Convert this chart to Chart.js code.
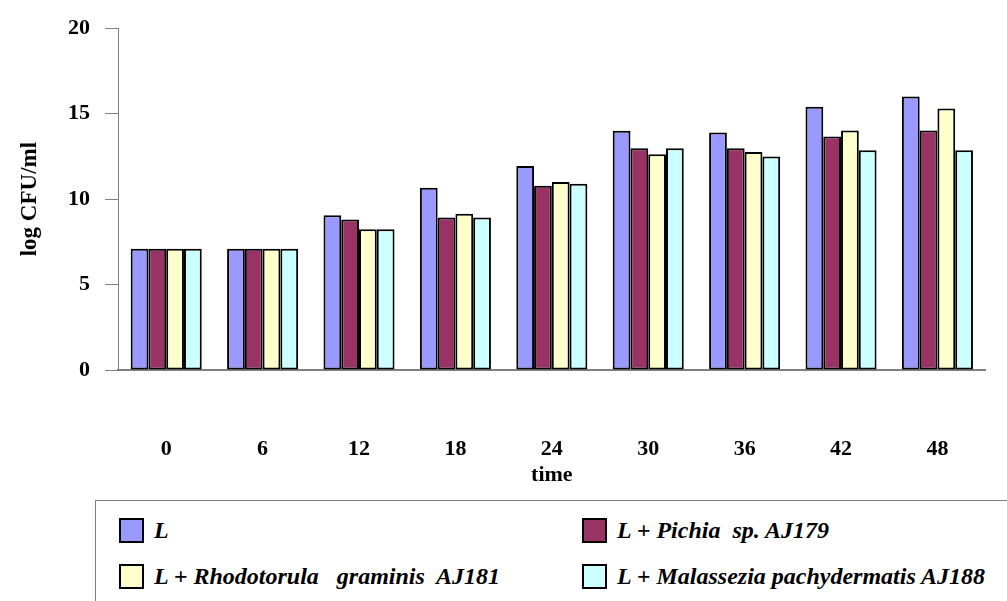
<!DOCTYPE html>
<html>
<head>
<meta charset="utf-8">
<script src="https://cdn.jsdelivr.net/npm/chart.js@4/dist/chart.umd.min.js"></script>
<style>
  body { margin: 0; background: #fff; overflow: hidden; }
  #wrap { position: relative; width: 1007px; height: 601px; }
  #chart { position: absolute; left: 0; top: 0; }
  #legend {
    position: absolute; left: 95px; top: 500px; width: 940px; height: 150px;
    border: 1px solid #808080; box-sizing: border-box; background: #fff;
  }
  .item { position: absolute; display: flex; align-items: center; height: 25px; }
  .sw { width: 25px; height: 25px; box-sizing: border-box; border: 2px solid #000; margin-right: 10px; }
  .lbl { font: italic bold 24px "Liberation Serif", "Times New Roman", serif; white-space: pre; color: #000; }
</style>
</head>
<body>
<div id="wrap">
  <canvas id="chart" width="1007" height="500"></canvas>
  <div id="legend"></div>
</div>
<script>
// Data
const times = ["0", "6", "12", "18", "24", "30", "36", "42", "48"];
const seriesNames = [
  "L",
  "L + Pichia  sp. AJ179",
  "L + Rhodotorula   graminis  AJ181",
  "L + Malassezia pachydermatis AJ188"
];
const colors = ["#9999FF", "#993366", "#FFFFCC", "#CCFFFF"];
const valL = [7.1, 7.1, 9.05, 10.67, 11.93, 14.0, 13.9, 15.4, 16.0];
const valPichia = [7.1, 7.1, 8.8, 8.93, 10.78, 12.98, 12.98, 13.67, 14.02];
const valRhodo = [7.1, 7.1, 8.23, 9.15, 11.0, 12.63, 12.75, 14.02, 15.3];
const valMalass = [7.1, 7.1, 8.23, 8.92, 10.9, 12.98, 12.5, 12.86, 12.86];

const serif = '"Liberation Serif", "Times New Roman", serif';
const allValues = [valL, valPichia, valRhodo, valMalass];

const chart = new Chart(document.getElementById("chart").getContext("2d"), {
  type: "bar",
  data: {
    labels: times,
    datasets: allValues.map((vals, i) => ({
      label: seriesNames[i],
      data: vals,
      backgroundColor: colors[i],
      borderColor: "#000",
      borderWidth: 2,
      borderSkipped: false,
      categoryPercentage: 0.737,
      barPercentage: 1.0
    }))
  },
  options: {
    responsive: false,
    animation: false,
    layout: { padding: { left: 0, right: 10, top: 24, bottom: 0 } },
    plugins: { legend: { display: false }, tooltip: { enabled: false } },
    scales: {
      x: {
        afterFit: (s) => { s.height = 130; },
        grid: { display: false },
        border: { display: true, color: "#808080", width: 2 },
        ticks: { color: "#000", padding: 58, font: { family: serif, size: 22, weight: "bold" } },
        title: {
          display: true, text: "time", color: "#000",
          padding: { top: 0, bottom: 11 },
          font: { family: serif, size: 22, weight: "bold" }
        }
      },
      y: {
        min: 0, max: 20,
        afterFit: (s) => { s.width = 118; },
        grid: { drawOnChartArea: false, drawTicks: true, tickLength: 13, color: "#808080" },
        border: { display: true, color: "#808080", width: 1 },
        ticks: { stepSize: 5, color: "#000", padding: 15, font: { family: serif, size: 22, weight: "bold" } },
        title: {
          display: true, text: "log CFU/ml", color: "#000",
          padding: { top: 16, bottom: 0 },
          font: { family: serif, size: 23, weight: "bold" }
        }
      }
    }
  }
});

// Legend box below the chart, two columns
const legendEl = document.getElementById("legend");
const spots = [[23, 17], [486, 17], [23, 63], [486, 63]];
chart.data.datasets.forEach((ds, i) => {
  const item = document.createElement("div");
  item.className = "item";
  item.style.left = spots[i][0] + "px";
  item.style.top = spots[i][1] + "px";
  item.innerHTML = `<div class="sw" style="background:${ds.backgroundColor}"></div><span class="lbl">${ds.label}</span>`;
  legendEl.appendChild(item);
});
</script>
</body>
</html>
